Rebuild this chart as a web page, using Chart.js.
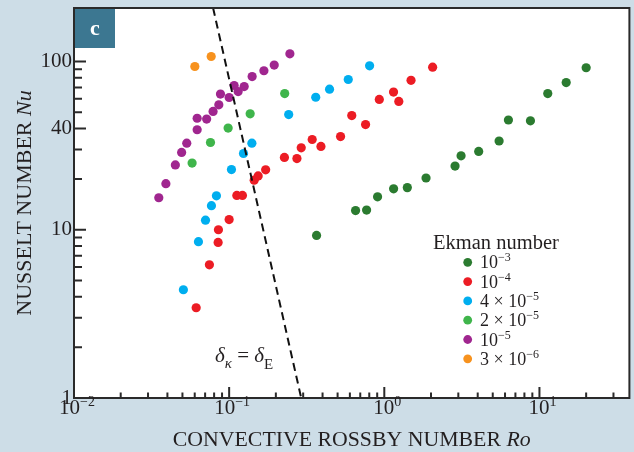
<!DOCTYPE html>
<html>
<head>
<meta charset="utf-8">
<script src="https://cdn.jsdelivr.net/npm/chart.js@4.4.0/dist/chart.umd.min.js"></script>
<style>
html,body{margin:0;padding:0;background:#cddde7;}
#wrap{width:634px;height:452px;}
</style>
</head>
<body>
<div id="wrap"><canvas id="chart" width="634" height="452"></canvas></div>
<script>
// Ekman number series: convective Rossby number Ro vs Nusselt number Nu
const ro1e3 = [0.366,0.653,0.769,0.905,1.148,1.407,1.858,2.858,3.125,4.058,5.495,6.31,8.75,11.31,14.87,20.0];
const nu1e3 = [9.25,13.0,13.1,15.7,17.5,17.8,20.3,23.9,27.5,29.2,33.7,44.9,44.4,64.5,75.0,91.8];
const ro1e4 = [0.0613,0.0746,0.0849,0.0853,0.1,0.1121,0.1218,0.145,0.1538,0.1719,0.2271,0.2734,0.2914,0.343,0.3905,0.5224,0.6172,0.7573,0.9284,1.147,1.24,1.487,2.049];
const nu1e4 = [3.44,6.19,8.41,10.0,11.5,16.0,16.0,19.7,20.9,22.7,26.9,26.5,30.7,34.4,31.3,35.8,47.7,42.2,59.5,65.8,57.9,77.3,92.6];
const ro4e5 = [0.0507,0.0634,0.0704,0.0769,0.0828,0.1035,0.1237,0.1401,0.242,0.3615,0.4437,0.5856,0.804];
const nu4e5 = [4.40,8.49,11.4,13.9,15.9,22.8,28.4,32.7,48.4,61.3,68.5,78.2,94.3];
const ro2e5 = [0.0577,0.0758,0.0985,0.1366,0.2281];
const nu2e5 = [24.9,33.0,40.2,48.9,64.5];
const ro1e5 = [0.0352,0.0391,0.045,0.0494,0.0533,0.0622,0.0622,0.0716,0.0788,0.0858,0.0879,0.1,0.1077,0.1143,0.125,0.1407,0.1675,0.1952,0.2463];
const nu1e5 = [15.5,18.8,24.3,28.8,32.7,39.3,46.0,45.5,50.5,55.3,64.0,61.1,72.0,66.3,71.0,81.4,88.1,95.2,111.1];
const ro3e6 = [0.0601,0.0766];
const nu3e6 = [93.4,107.1];

// delta_kappa = delta_E boundary
const boundaryRo = [0.0788, 0.2914];
const boundaryNu = [208, 1];

// legend text
const ekmanPrefix = ['', '', '4 × ', '2 × ', '', '3 × '];
const ekmanExp = ['−3','−4','−5','−5','−5','−6'];
const colors = ['#2b7b30','#ec1c24','#00aeef','#3fb54b','#a0268f','#f7921e'];

// ticks
const xTicks = [0.01, 0.1, 1, 10];
const xTickExp = ['−2','−1','0','1'];
const yTicks = [1, 10, 40, 100];
const yTickText = ['1','10','40','100'];

const serif = "'Liberation Serif','DejaVu Serif',serif";
const ink = '#231f20';

const series = [[ro1e3,nu1e3],[ro1e4,nu1e4],[ro4e5,nu4e5],[ro2e5,nu2e5],[ro1e5,nu1e5],[ro3e6,nu3e6]];
const datasets = series.map((s,i)=>({
  type:'scatter',
  data:s[0].map((x,j)=>({x:x, y:s[1][j]})),
  backgroundColor:colors[i],
  borderWidth:0,
  pointRadius:4.6,
  pointHoverRadius:4.6
}));
datasets.push({
  type:'line',
  data:boundaryRo.map((x,j)=>({x:x, y:boundaryNu[j]})),
  borderColor:'#111',
  borderWidth:2,
  borderDash:[8,5],
  pointRadius:0,
  fill:false,
  tension:0,
  order:-1
});

// draw text pieces side by side: [text, font, dy]
function runsWidth(ctx, runs){
  let w = 0;
  runs.forEach(r=>{ ctx.font = r[1]; w += ctx.measureText(r[0]).width; });
  return w;
}
function drawRuns(ctx, runs, x, y){
  ctx.textAlign = 'left';
  runs.forEach(r=>{
    ctx.font = r[1];
    ctx.fillText(r[0], x, y + (r[2]||0));
    x += ctx.measureText(r[0]).width;
  });
}

function noPad(ax){
  ax.paddingTop = 0; ax.paddingBottom = 0;
  ax.paddingLeft = 0; ax.paddingRight = 0;
}

const decor = {
  id:'decor',
  beforeDraw(chart){
    const {ctx, chartArea:a} = chart;
    ctx.save();
    ctx.fillStyle = '#fff';
    ctx.fillRect(a.left, a.top, a.right-a.left, a.bottom-a.top);
    ctx.restore();
  },
  afterDraw(chart){
    const {ctx, chartArea:a, scales} = chart;
    const xs = scales.x, ys = scales.y;
    ctx.save();
    ctx.strokeStyle = '#2a2a2a';
    ctx.lineWidth = 2;

    // inward tick marks
    ctx.beginPath();
    for(let e=-2;e<=1;e++){
      for(let k=1;k<=9;k++){
        const v = k*Math.pow(10,e);
        if(v < xs.min || v > xs.max) continue;
        const px = xs.getPixelForValue(v);
        const len = k===1 ? 11 : 5.5;
        ctx.moveTo(px, a.bottom); ctx.lineTo(px, a.bottom-len);
      }
    }
    for(let e=0;e<=2;e++){
      for(let k=1;k<=9;k++){
        const v = k*Math.pow(10,e);
        if(v < ys.min || v > ys.max) continue;
        const py = ys.getPixelForValue(v);
        const len = yTicks.includes(v) ? 12 : 8;
        ctx.moveTo(a.left, py); ctx.lineTo(a.left+len, py);
      }
    }
    ctx.stroke();

    // frame
    ctx.strokeRect(a.left, a.top, a.right-a.left, a.bottom-a.top);

    ctx.fillStyle = ink;
    ctx.textBaseline = 'alphabetic';

    // x tick labels with superscripts
    xTicks.forEach((v,i)=>{
      const runs = [['10', '21px '+serif, 0], [xTickExp[i], '14px '+serif, -8]];
      const w = runsWidth(ctx, runs);
      drawRuns(ctx, runs, xs.getPixelForValue(v) + 3 - w/2, a.bottom + 16);
    });

    // axis titles
    const xt = [['CONVECTIVE ROSSBY NUMBER ', '21.8px '+serif], ['Ro', 'italic 21.8px '+serif]];
    drawRuns(ctx, xt, (a.left+a.right)/2 - runsWidth(ctx, xt)/2, 446);
    const yt = [['NUSSELT NUMBER ', '22px '+serif], ['Nu', 'italic 22px '+serif]];
    ctx.save();
    ctx.translate(31, (a.top+a.bottom)/2);
    ctx.rotate(-Math.PI/2);
    drawRuns(ctx, yt, -runsWidth(ctx, yt)/2, 0);
    ctx.restore();

    // boundary annotation
    drawRuns(ctx, [
      ['δ', 'italic 21px '+serif, 0],
      ['κ', 'italic 15px '+serif, 6],
      [' = ', '21px '+serif, 0],
      ['δ', 'italic 21px '+serif, 0],
      ['E', '15px '+serif, 7]
    ], 215, 362);

    // legend
    ctx.font = '20.5px '+serif;
    ctx.fillText('Ekman number', 433, 249);
    colors.forEach((c,i)=>{
      const cy = 262.3 + i*19.3;
      ctx.fillStyle = c;
      ctx.beginPath(); ctx.arc(467.7, cy, 4.4, 0, Math.PI*2); ctx.fill();
      ctx.fillStyle = ink;
      drawRuns(ctx, [[ekmanPrefix[i]+'10', '18px '+serif, 0], [ekmanExp[i], '12px '+serif, -7]], 480, cy+6);
    });

    // panel label
    ctx.fillStyle = '#3c7791';
    ctx.fillRect(a.left+1, a.top+1, 40, 39);
    ctx.fillStyle = '#fff';
    ctx.font = 'bold 22px '+serif;
    ctx.textAlign = 'center';
    ctx.fillText('c', a.left+21, a.top+27);
    ctx.restore();
  }
};

new Chart(document.getElementById('chart').getContext('2d'), {
  type:'scatter',
  data:{ datasets:datasets },
  options:{
    responsive:false,
    animation:false,
    layout:{ padding:{ top:8, right:3, left:0, bottom:0 } },
    plugins:{ legend:{ display:false }, tooltip:{ enabled:false } },
    scales:{
      x:{
        type:'logarithmic', min:0.01, max:38,
        grid:{ display:false, drawTicks:false },
        border:{ display:false },
        ticks:{ display:false },
        afterBuildTicks:(ax)=>{ ax.ticks = xTicks.map(v=>({value:v})); },
        afterFit:(ax)=>{ ax.height = 54; noPad(ax); }
      },
      y:{
        type:'logarithmic', min:1, max:208,
        grid:{ display:false, drawTicks:false },
        border:{ display:false },
        ticks:{
          autoSkip:false, padding:2, color:ink,
          font:{ family:serif, size:21 },
          callback:(v,i)=>yTickText[i]
        },
        afterBuildTicks:(ax)=>{ ax.ticks = yTicks.map(v=>({value:v})); },
        afterFit:(ax)=>{ ax.width = 74; noPad(ax); }
      }
    }
  },
  plugins:[decor]
});
</script>
</body>
</html>
